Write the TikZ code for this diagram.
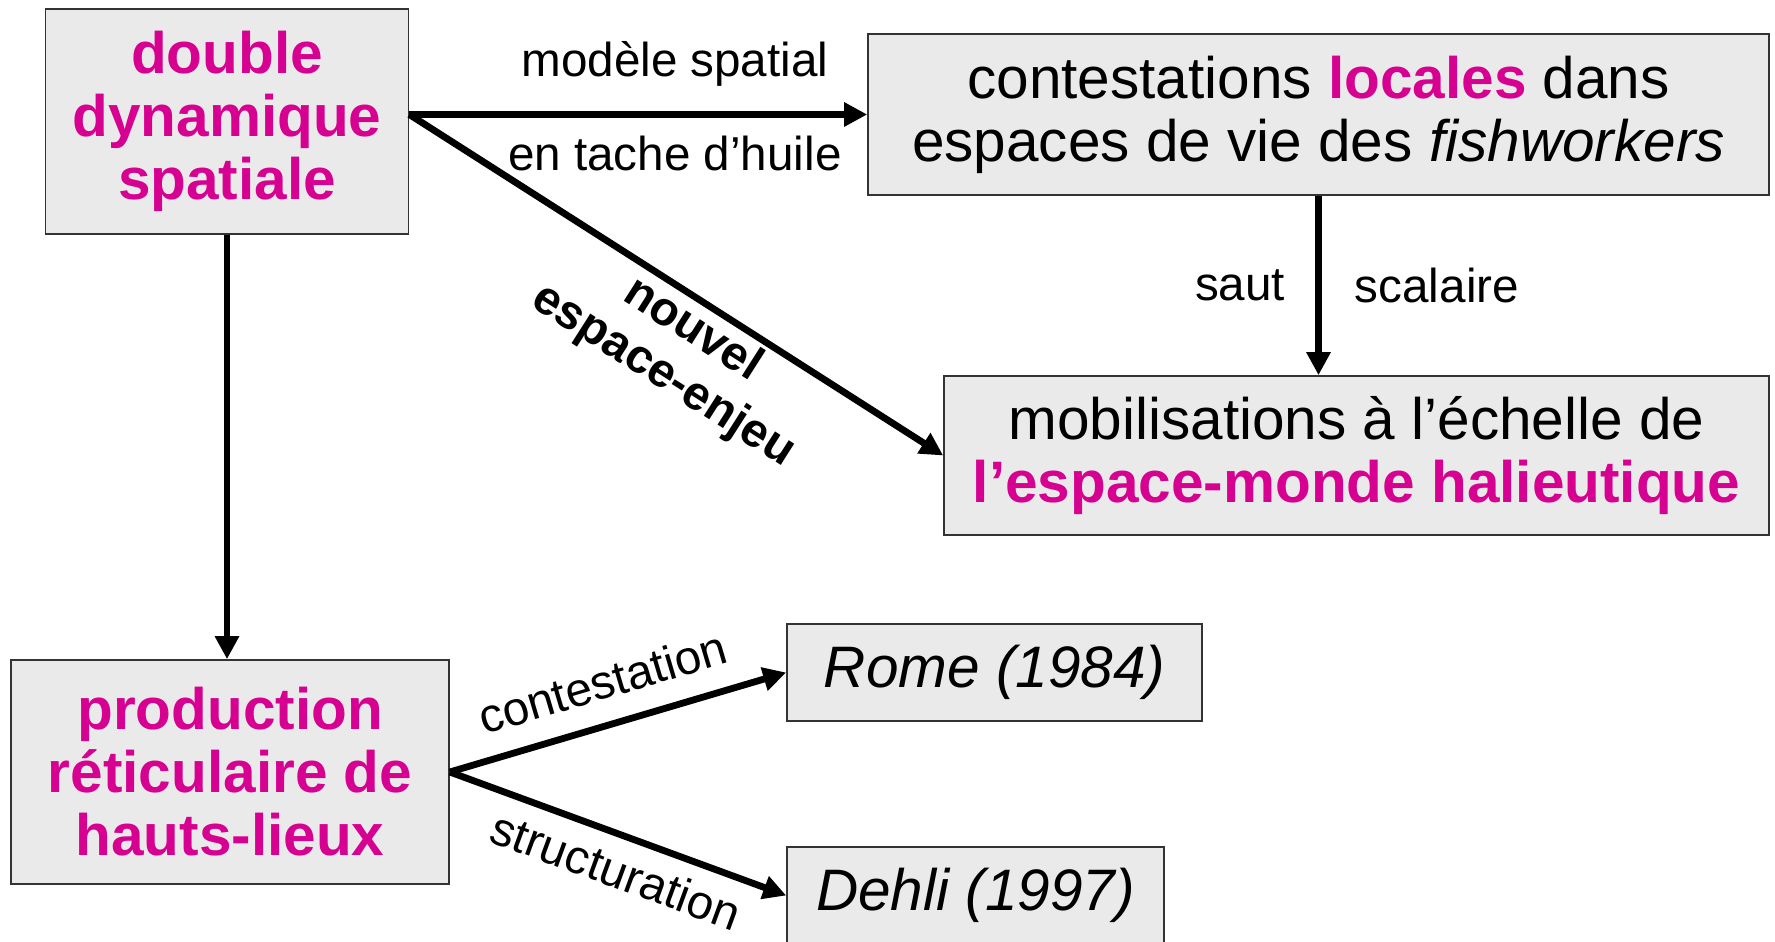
\documentclass[tikz,border=0pt]{standalone}
\usepackage{fontspec}
\setmainfont{Liberation Sans}
\usetikzlibrary{arrows.meta}
\definecolor{hotPink}{RGB}{214,0,145}
\definecolor{boxGray}{RGB}{234,234,234}
\tikzstyle{boxes} = [rectangle, fill=boxGray, draw=black!80, line width=0.8pt, align=center,
inner sep=0pt, font=\fontsize{29.25pt}{31.5pt}\selectfont]
\tikzstyle{hot} = [text=hotPink, font=\fontsize{29.25pt}{31.5pt}\selectfont\bfseries]
\tikzstyle{lbl} = [inner sep=0pt, font=\fontsize{23.8pt}{27pt}\selectfont]
\tikzstyle{lblBold} = [inner sep=0pt, align=center, font=\fontsize{23.8pt}{27pt}\selectfont\bfseries]
\tikzstyle{arrow} = [line width=3.4pt, -{Triangle[length=11.5pt,width=11.5pt]}]
\newcommand{\hot}[1]{\textcolor{hotPink}{\bfseries #1}}

\begin{document}
\begin{tikzpicture}[x=0.5pt, y=-0.5pt]
    \useasboundingbox (0,0) rectangle (1775,941);

    \node (double) [boxes, hot, minimum width=181.5pt, minimum height=112.5pt] at (227,121.5)
    {double\\dynamique\\spatiale};
    \node (local) [boxes, minimum width=450.5pt, minimum height=80.5pt] at (1318.5,114.5)
    {contestations \hot{locales} dans\\espaces de vie des \textit{fishworkers}};
    \node (mobil) [boxes, minimum width=412.5pt, minimum height=79.5pt] at (1356.5,455.5)
    {mobilisations à l’échelle de\\\hot{l’espace-monde halieutique}};
    \node (prod) [boxes, hot, minimum width=219pt, minimum height=112pt] at (230,772)
    {production\\réticulaire de\\hauts-lieux};
    \node (rome) [boxes, minimum width=207.5pt, minimum height=48.5pt] at (994.5,672.5)
    {\textit{Rome (1984)}};
    \node (dehli) [boxes, minimum width=188.5pt, minimum height=48.5pt] at (975.5,895.5)
    {\textit{Dehli (1997)}};

    \coordinate (fork) at (double.east |- local.west);

    \draw[arrow] (fork) -- node[lbl, above=12.5pt, pos=0.58] {modèle spatial}
    node[lbl, below=9pt, pos=0.58] {en tache d’huile} (local);
    \draw[arrow] (fork) -- node[lblBold, sloped, below=2pt, pos=0.56] {nouvel\\espace-enjeu} (mobil.west);
    \draw[arrow] (local.south) -- node[lbl, left=15pt] {saut}
    node[lbl, right=16.5pt] {scalaire} (local.south |- mobil.north);
    \draw[arrow] (double.south) -- (double.south |- prod.north);
    \draw[arrow] (prod.east) -- node[lbl, sloped, above=11pt, pos=0.49] {contestation} (rome.west);
    \draw[arrow] (prod.east) -- node[lbl, sloped, below=7pt, pos=0.53] {structuration} (dehli.west);

\end{tikzpicture}
\end{document}
